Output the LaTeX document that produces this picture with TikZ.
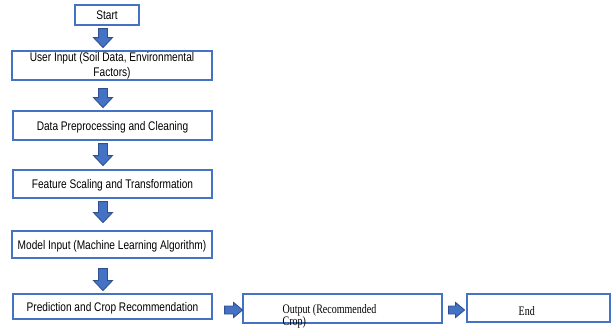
\documentclass[tikz,border=0pt]{standalone}
\usepackage{fontspec}
\newfontfamily\sansf[FakeStretch=0.81]{Liberation Sans}
\newfontfamily\seriff[FakeStretch=0.77]{Liberation Serif}
\usetikzlibrary{calc}
\definecolor{boxblue}{HTML}{4472C4}
\definecolor{arrowline}{HTML}{2F528F}
\tikzset{
  box/.style={draw=boxblue, line width=1.1pt, rectangle, inner sep=0pt,
    font=\sansf\fontsize{12.5}{15}\selectfont, align=center},
  oneline/.style={box, text height=9pt, text depth=0pt},
  blk/.style={fill=boxblue, draw=arrowline, line width=0.9pt, line join=miter},
  pics/darr/.style={code={\draw[blk] (-4.5,0) -- (4.5,0) -- (4.5,#1-10) -- (9.5,#1-10) -- (0,#1) -- (-9.5,#1-10) -- (-4.5,#1-10) -- cycle;}},
  pics/rarr/.style={code={\draw[blk] (0,-4) -- (#1-9,-4) -- (#1-9,-7.5) -- (#1,0) -- (#1-9,7.5) -- (#1-9,4) -- (0,4) -- cycle;}}
}
\begin{document}
\begin{tikzpicture}[x=1pt,y=-1pt]
\useasboundingbox (0,0) rectangle (611,332);
\node[oneline, minimum width=64pt, minimum height=20pt] (start) at (107,15) {Start};
\node[box, minimum width=200pt, minimum height=29pt] (user) at (112,65.5) {User Input (Soil Data, Environmental\\Factors)};
\node[oneline, minimum width=199pt, minimum height=29pt] (data) at (112.5,125.5) {Data Preprocessing and Cleaning};
\node[oneline, minimum width=199pt, minimum height=28pt] (feat) at (112.5,184) {Feature Scaling and Transformation};
\node[oneline, minimum width=200pt, minimum height=27pt] (model) at (112,244.5) {Model Input (Machine Learning Algorithm)};
\node[oneline, minimum width=199pt, minimum height=25pt] (pred) at (112.5,306.5) {Prediction and Crop Recommendation};
\node[box, minimum width=199pt, minimum height=29pt,
  label={[font=\seriff\fontsize{13}{12}\selectfont, align=left, inner sep=0pt, anchor=north west, xshift=40pt, yshift=-10.5pt]north west:Output (Recommended\\Crop)}] (out) at (342.5,308.5) {};
\node[box, minimum width=143pt, minimum height=28pt,
  label={[font=\seriff\fontsize{13}{12}\selectfont, inner sep=0pt, anchor=west, xshift=52pt, yshift=-3pt]west:End}] (end) at (538.5,308) {};
\pic at ([shift={(-4,3)}]start.south) {darr=19};
\pic at ([shift={(-9,8)}]user.south) {darr=19};
\pic at ([shift={(-9.5,3)}]data.south) {darr=22};
\pic at ([shift={(-9.5,3)}]feat.south) {darr=21};
\pic at ([shift={(-9,10)}]model.south) {darr=22};
\pic at ([shift={(12,3.5)}]pred.east) {rarr=18};
\pic at ([shift={(6,1.5)}]out.east) {rarr=16};
\end{tikzpicture}
\end{document}
